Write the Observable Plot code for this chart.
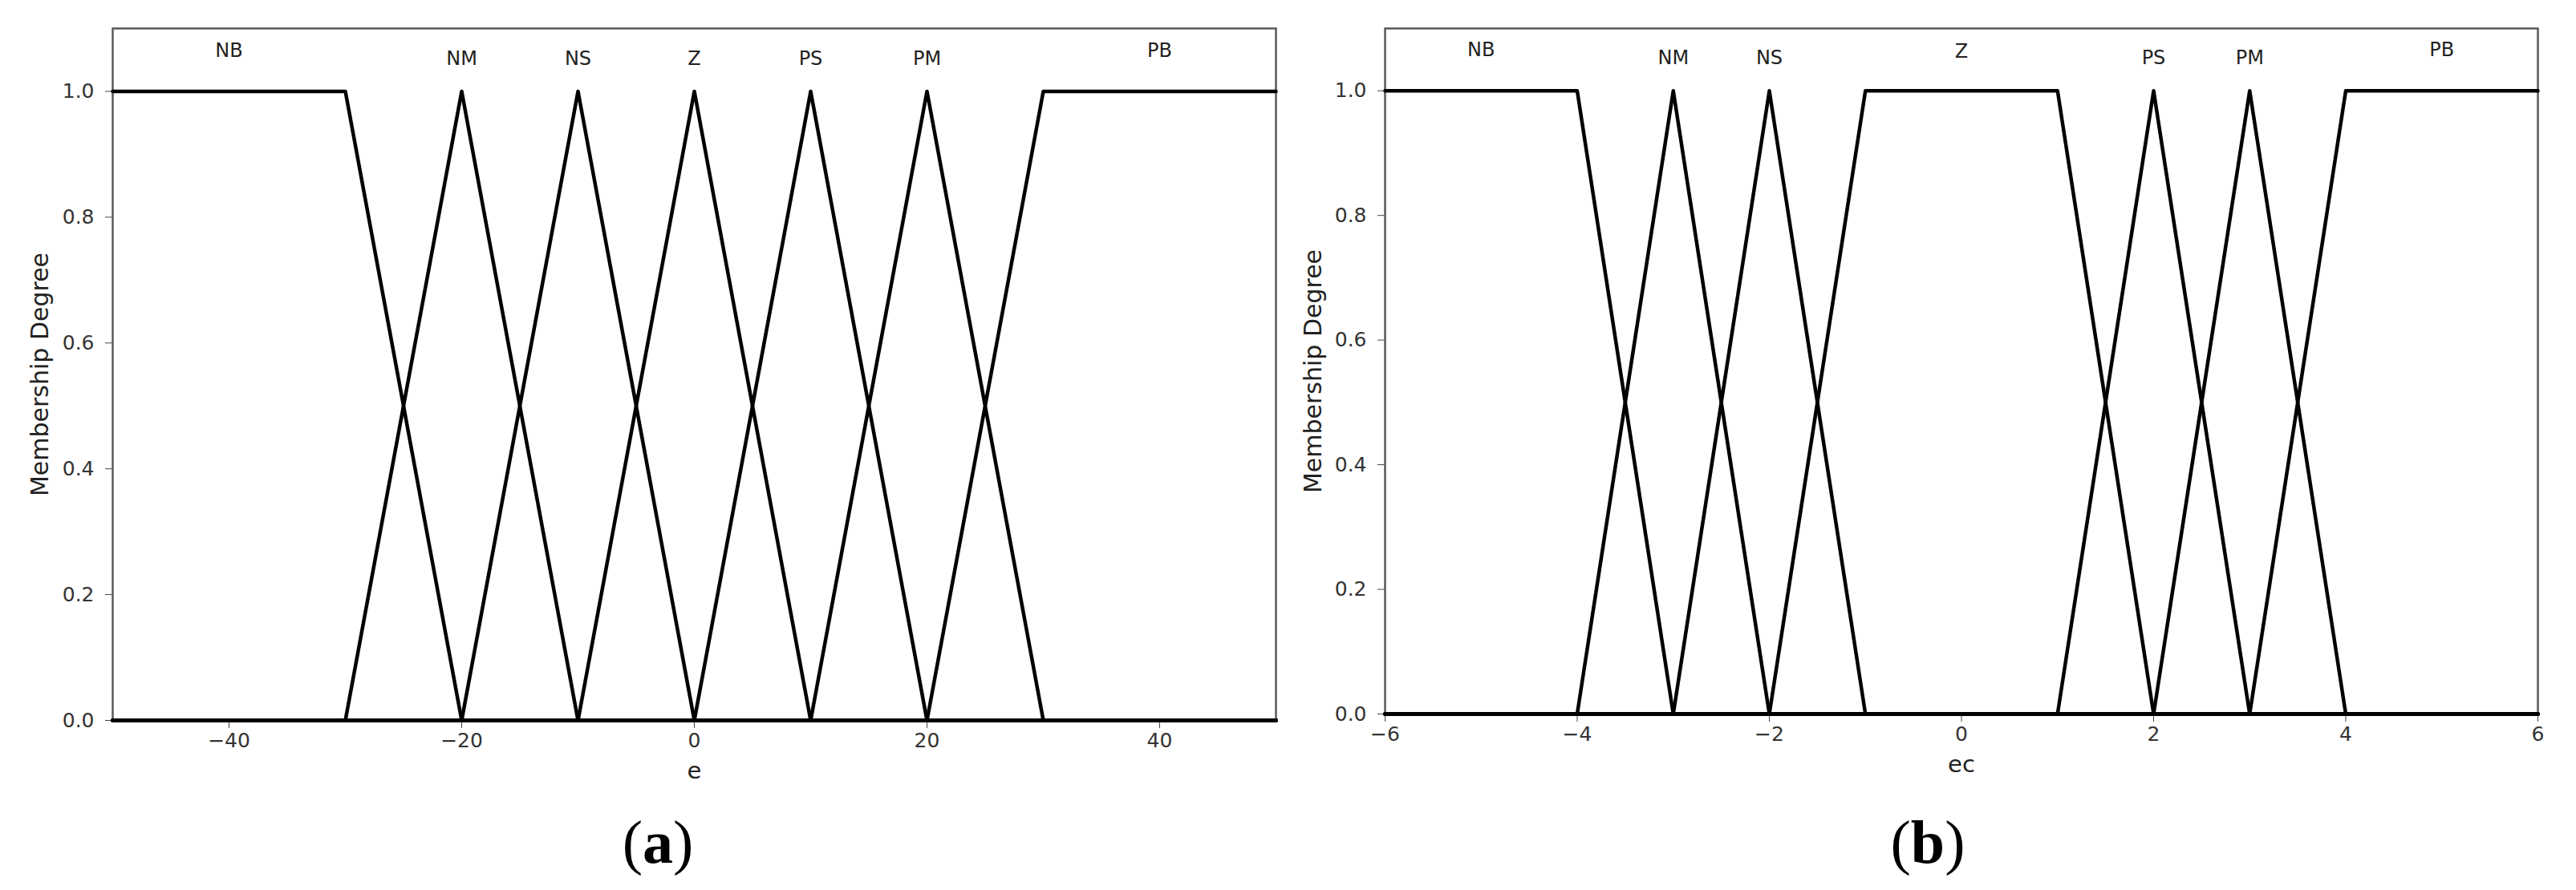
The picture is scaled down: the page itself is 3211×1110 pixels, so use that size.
<!DOCTYPE html>
<html>
<head>
<meta charset="utf-8">
<script src="https://cdn.jsdelivr.net/npm/d3@7"></script>
<script src="https://cdn.jsdelivr.net/npm/@observablehq/plot@0.6"></script>
<style>
  html, body { margin: 0; padding: 0; background: #fff; }
  #wrap { position: relative; width: 3211px; height: 1110px; background: #fff; overflow: hidden; }
  .panel { position: absolute; top: 0; }
  .cap { position: absolute; top: 1005px; font-family: "Liberation Serif", "Times New Roman", serif; font-size: 76px; color: #000; transform: translateX(-50%); line-height: 90px; }
  .cap b { font-weight: bold; }
</style>
</head>
<body>
<div id="wrap">
  <div id="pa" class="panel" style="left:0px"></div>
  <div id="pb" class="panel" style="left:1600px"></div>
  <div class="cap" style="left:820px">(<b>a</b>)</div>
  <div class="cap" style="left:2403px">(<b>b</b>)</div>
</div>
<script>
// ---- Panel (a): error e ----
const eTerms = ["NB", "NM", "NS", "Z", "PS", "PM", "PB"];
const eBreakX = [
  [-50, -30, -20, 50],
  [-50, -30, -20, -10, 50],
  [-50, -20, -10, 0, 50],
  [-50, -10, 0, 10, 50],
  [-50, 0, 10, 20, 50],
  [-50, 10, 20, 30, 50],
  [-50, 20, 30, 50]
];
const eBreakY = [
  [1, 1, 0, 0],
  [0, 0, 1, 0, 0],
  [0, 0, 1, 0, 0],
  [0, 0, 1, 0, 0],
  [0, 0, 1, 0, 0],
  [0, 0, 1, 0, 0],
  [0, 0, 1, 1]
];
const eLabelX = [-40, -20, -10, 0, 10, 20, 40];
const eLabelY = [1.065, 1.052, 1.052, 1.052, 1.052, 1.052, 1.065];
const eTicks = [-40, -20, 0, 20, 40];

// ---- Panel (b): error change ec ----
const ecTerms = ["NB", "NM", "NS", "Z", "PS", "PM", "PB"];
const ecBreakX = [
  [-6, -4, -3, 6],
  [-6, -4, -3, -2, 6],
  [-6, -3, -2, -1, 6],
  [-6, -2, -1, 1, 2, 6],
  [-6, 1, 2, 3, 6],
  [-6, 2, 3, 4, 6],
  [-6, 3, 4, 6]
];
const ecBreakY = [
  [1, 1, 0, 0],
  [0, 0, 1, 0, 0],
  [0, 0, 1, 0, 0],
  [0, 0, 1, 1, 0, 0],
  [0, 0, 1, 0, 0],
  [0, 0, 1, 0, 0],
  [0, 0, 1, 1]
];
const ecLabelX = [-5, -3, -2, 0, 2, 3, 5];
const ecLabelY = [1.065, 1.052, 1.052, 1.063, 1.052, 1.052, 1.065];
const ecTicks = [-6, -4, -2, 0, 2, 4, 6];

const yTicks = [0, 0.2, 0.4, 0.6, 0.8, 1.0];
const yDomain = [0, 1.1];
const yTitle = "Membership Degree";

function rows(terms, bx, by) {
  const out = [];
  terms.forEach((t, i) => bx[i].forEach((x, j) => out.push({term: t, x, y: by[i][j]})));
  return out;
}
function labels(terms, lx, ly) {
  return terms.map((t, i) => ({term: t, x: lx[i], y: ly[i]}));
}

function panel({terms, bx, by, lx, ly, xDomain, xTicks, xTitle, width, height, ml, mr, mb, ylDx}) {
  return Plot.plot({
    width, height,
    marginLeft: ml, marginRight: mr, marginTop: 35, marginBottom: mb,
    style: {fontFamily: "'DejaVu Sans', sans-serif", fontSize: "24px", color: "#333", background: "#fff", overflow: "visible"},
    x: {domain: xDomain, label: null},
    y: {domain: yDomain, label: null},
    marks: [
      Plot.axisX({ticks: xTicks, tickSize: 10, tickPadding: 6, stroke: "#444", fontSize: 25, label: null}),
      Plot.axisY({ticks: yTicks, tickFormat: d3.format(".1f"), tickSize: 9, tickPadding: 14, stroke: "#444", fontSize: 25, label: null}),
      Plot.frame({stroke: "#5a5a5a", strokeWidth: 2.5}),
      Plot.line(rows(terms, bx, by), {x: "x", y: "y", z: "term", stroke: "#000", strokeWidth: 4.5, strokeLinejoin: "round"}),
      Plot.text(labels(terms, lx, ly), {x: "x", y: "y", text: "term", fontSize: 24, fill: "#222"}),
      Plot.text([xTitle], {frameAnchor: "bottom", textAnchor: "middle", dy: 72, text: d => d, fontSize: 29, fill: "#222"}),
      Plot.text([yTitle], {frameAnchor: "left", textAnchor: "middle", dx: ylDx, rotate: -90, text: d => d, fontSize: 30, fill: "#222"})
    ]
  });
}

document.getElementById("pa").append(panel({
  terms: eTerms, bx: eBreakX, by: eBreakY, lx: eLabelX, ly: eLabelY,
  xDomain: [-50, 50], xTicks: eTicks, xTitle: "e",
  width: 1650, height: 1010, ml: 140, mr: 60, mb: 112, ylDx: -90
}));
document.getElementById("pb").append(panel({
  terms: ecTerms, bx: ecBreakX, by: ecBreakY, lx: ecLabelX, ly: ecLabelY,
  xDomain: [-6, 6], xTicks: ecTicks, xTitle: "ec",
  width: 1611, height: 1010, ml: 126, mr: 48, mb: 120, ylDx: -89
}));
</script>
</body>
</html>
